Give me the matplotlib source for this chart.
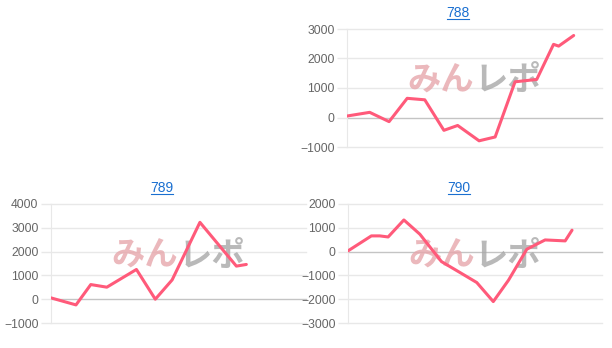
import numpy as np
import matplotlib
matplotlib.use("Agg")
import matplotlib.pyplot as plt

plt.rcParams['font.family'] = ['Liberation Sans', 'DejaVu Sans']

# machine 788
x_788 = [0, 8.9, 16.5, 23.6, 30.5, 38.0, 43.4, 51.8, 58.1, 65.9, 74.4, 81.0, 83.0, 88.9]
y_788 = [50, 175, -140, 650, 600, -435, -270, -790, -660, 1210, 1290, 2480, 2420, 2780]

# machine 789
x_789 = [0, 9.8, 15.6, 21.9, 33.5, 40.9, 47.5, 58.4, 72.7, 76.6]
y_789 = [55, -240, 615, 505, 1250, 0, 810, 3230, 1390, 1460]

# machine 790
x_790 = [0, 9.2, 12.5, 15.8, 22.0, 28.3, 36.8, 44.1, 50.7, 57.2, 63.2, 70.4, 77.6, 85.5, 88.2]
y_790 = [30, 660, 660, 615, 1330, 730, -420, -880, -1300, -2100, -1200, 100, 490, 450, 900]

ticks_788 = [-1000, 0, 1000, 2000, 3000]
ticks_789 = [-1000, 0, 1000, 2000, 3000, 4000]
ticks_790 = [-3000, -2000, -1000, 0, 1000, 2000]

W, H = 612, 348
fig = plt.figure(figsize=(W / 100, H / 100), dpi=100)


def panel(box, title, title_xy, xs, ys, ticks):
    l, t, r, b = box
    ax = fig.add_axes([l / W, 1 - b / H, (r - l) / W, (b - t) / H])
    ax.set_xlim(0, 100)
    ax.set_ylim(ticks[0], ticks[-1])
    ax.set_yticks(ticks)
    ax.set_xticks([])
    for v in ticks:
        c = '#c4c4c4' if v == 0 else '#e8e8e8'
        ax.axhline(v, color=c, lw=1, zorder=1, clip_on=False)
    ax.tick_params(axis='y', length=7, width=1, color='#e8e8e8', pad=2,
                   labelsize=8.7, labelcolor='#666666')
    for s in ['top', 'right', 'bottom']:
        ax.spines[s].set_visible(False)
    ax.spines['left'].set_color('#e8e8e8')
    ax.set_facecolor('none')

    # watermark
    ax.text(0.5, 0.56, 'みん', transform=ax.transAxes, ha='right', va='center',
            fontsize=24, fontweight='bold', color='#e6a6ab', alpha=0.8,
            family=['Noto Sans CJK JP'], zorder=2)
    ax.text(0.5, 0.56, 'レポ', transform=ax.transAxes, ha='left', va='center',
            fontsize=24, fontweight='bold', color='#a8a8a8', alpha=0.8,
            family=['Noto Sans CJK JP'], zorder=2)

    ax.plot(xs, ys, color='#ff5a7a', lw=2.2, solid_joinstyle='round',
            solid_capstyle='round', zorder=3)

    tx, ty = title_xy
    fig.text(tx / W, 1 - ty / H, title, ha='center', va='center',
             fontsize=10, color='#1a6fd0')
    # underline of the title link
    fig.add_artist(plt.Line2D([(tx - 11) / W, (tx + 11) / W],
                              [1 - (ty + 6) / H, 1 - (ty + 6) / H],
                              color='#1a6fd0', lw=0.8))
    return ax


panel((347, 29, 602, 147), '788', (458, 13), x_788, y_788, ticks_788)
panel((51, 204, 306, 323), '789', (162, 188), x_789, y_789, ticks_789)
panel((348, 204, 602, 323), '790', (459, 188), x_790, y_790, ticks_790)

fig.savefig('out.png', dpi=100)
